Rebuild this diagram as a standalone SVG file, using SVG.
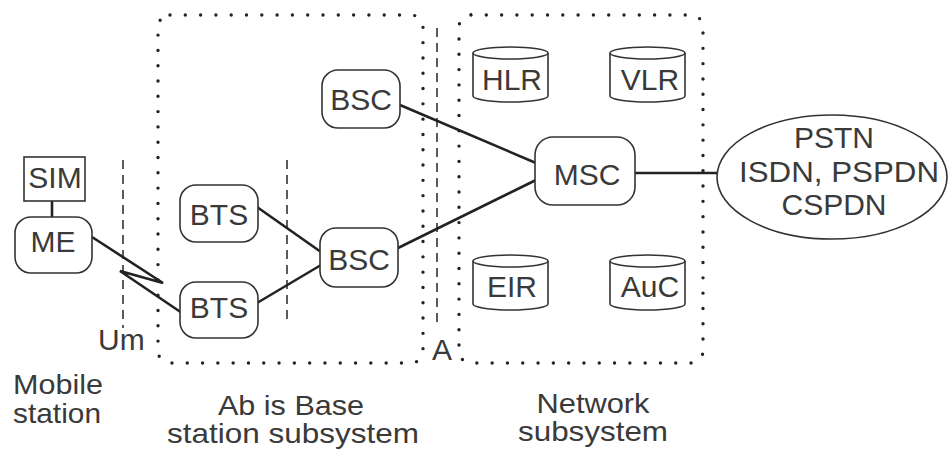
<svg xmlns="http://www.w3.org/2000/svg" width="949" height="450" viewBox="0 0 949 450">
  <style>
    text { font-family: "Liberation Sans", Arial, sans-serif; font-size: 30px; fill: #3a3a3a; }
    .c { text-anchor: middle; }
    .cap { font-size: 28px; }
    .node { fill: #fff; stroke: #333; stroke-width: 1.6; }
    .db { fill: #fff; stroke: #333; stroke-width: 1.6; }
    .link { fill: none; stroke: #222; stroke-width: 2.6; stroke-linejoin: miter; }
    .dots { fill: none; stroke: #222; stroke-width: 3.4; stroke-linecap: round; stroke-dasharray: 0 15.3; }
    .dash { fill: none; stroke: #333; stroke-width: 1.6; stroke-dasharray: 9 6; }
  </style>

  <!-- subsystem boundaries -->
  <g id="boundaries">
    <rect x="158" y="15" width="265" height="348" rx="12" class="dots"/>
    <rect x="459" y="15" width="244" height="348" rx="12" class="dots"/>
    <line x1="123" y1="160" x2="123" y2="328" class="dash"/>
    <line x1="287" y1="160" x2="287" y2="322" class="dash"/>
    <line x1="437" y1="28" x2="437" y2="323" class="dash"/>
  </g>

  <!-- connectors -->
  <g id="connectors">
    <line x1="52" y1="201" x2="52" y2="217" class="link" stroke-width="2"/>
    <polyline points="92,237 163,283 120,271 182,313" class="link"/>
    <line x1="257" y1="207" x2="321" y2="252" class="link"/>
    <line x1="257" y1="303" x2="321" y2="265" class="link"/>
    <line x1="398" y1="248" x2="536" y2="180" class="link"/>
    <line x1="400" y1="105" x2="536" y2="163" class="link"/>
    <line x1="635" y1="173" x2="717" y2="173" class="link"/>
  </g>

  <!-- mobile station -->
  <g id="sim">
    <rect x="24" y="157" width="61" height="44" class="node"/>
    <text x="55" y="188" class="c">SIM</text>
  </g>
  <g id="me">
    <rect x="15" y="217" width="77" height="56" rx="16" class="node"/>
    <text x="53" y="252" class="c">ME</text>
  </g>

  <!-- base station subsystem -->
  <g id="bts1">
    <rect x="180" y="185" width="78" height="57" rx="16" class="node"/>
    <text x="219" y="225" class="c">BTS</text>
  </g>
  <g id="bts2">
    <rect x="180" y="282" width="78" height="56" rx="16" class="node"/>
    <text x="219" y="318" class="c">BTS</text>
  </g>
  <g id="bsc1">
    <rect x="322" y="70" width="78" height="58" rx="16" class="node"/>
    <text x="361" y="110" class="c">BSC</text>
  </g>
  <g id="bsc2">
    <rect x="320" y="228" width="78" height="59" rx="16" class="node"/>
    <text x="359" y="270" class="c">BSC</text>
  </g>

  <!-- network subsystem -->
  <g id="msc">
    <rect x="535" y="137" width="100" height="68" rx="18" class="node"/>
    <text x="587" y="185" class="c">MSC</text>
  </g>
  <g id="hlr">
    <path d="M473,53 V96 A37.5,6 0 0 0 548,96 V53" class="db"/>
    <ellipse cx="510.5" cy="53" rx="37.5" ry="6" class="db"/>
    <text x="512" y="90" class="c">HLR</text>
  </g>
  <g id="vlr">
    <path d="M610,53 V96 A37.5,6 0 0 0 685,96 V53" class="db"/>
    <ellipse cx="647.5" cy="53" rx="37.5" ry="6" class="db"/>
    <text x="650" y="90" class="c">VLR</text>
  </g>
  <g id="eir">
    <path d="M473,261 V304 A37.5,6 0 0 0 548,304 V261" class="db"/>
    <ellipse cx="510.5" cy="261" rx="37.5" ry="6" class="db"/>
    <text x="512" y="297" class="c">EIR</text>
  </g>
  <g id="auc">
    <path d="M610,261 V304 A37.5,6 0 0 0 685,304 V261" class="db"/>
    <ellipse cx="647.5" cy="261" rx="37.5" ry="6" class="db"/>
    <text x="650" y="297" class="c">AuC</text>
  </g>

  <!-- external networks -->
  <g id="pstn">
    <ellipse cx="832" cy="177" rx="115" ry="62" class="node"/>
    <text x="834" y="148" class="c">PSTN</text>
    <text x="839" y="182" class="c" textLength="200" lengthAdjust="spacingAndGlyphs">ISDN, PSPDN</text>
    <text x="834" y="215" class="c">CSPDN</text>
  </g>

  <!-- interface and subsystem labels -->
  <g id="labels">
    <text x="98" y="350">Um</text>
    <text x="432" y="360">A</text>
    <text x="13" y="394" class="cap" textLength="90" lengthAdjust="spacingAndGlyphs">Mobile</text>
    <text x="13" y="423" class="cap" textLength="88" lengthAdjust="spacingAndGlyphs">station</text>
    <text x="291" y="415" class="c cap" textLength="146" lengthAdjust="spacingAndGlyphs">Ab is Base</text>
    <text x="293" y="443" class="c cap" textLength="252" lengthAdjust="spacingAndGlyphs">station subsystem</text>
    <text x="593" y="413" class="c cap" textLength="113" lengthAdjust="spacingAndGlyphs">Network</text>
    <text x="593" y="441" class="c cap" textLength="150" lengthAdjust="spacingAndGlyphs">subsystem</text>
  </g>
</svg>
